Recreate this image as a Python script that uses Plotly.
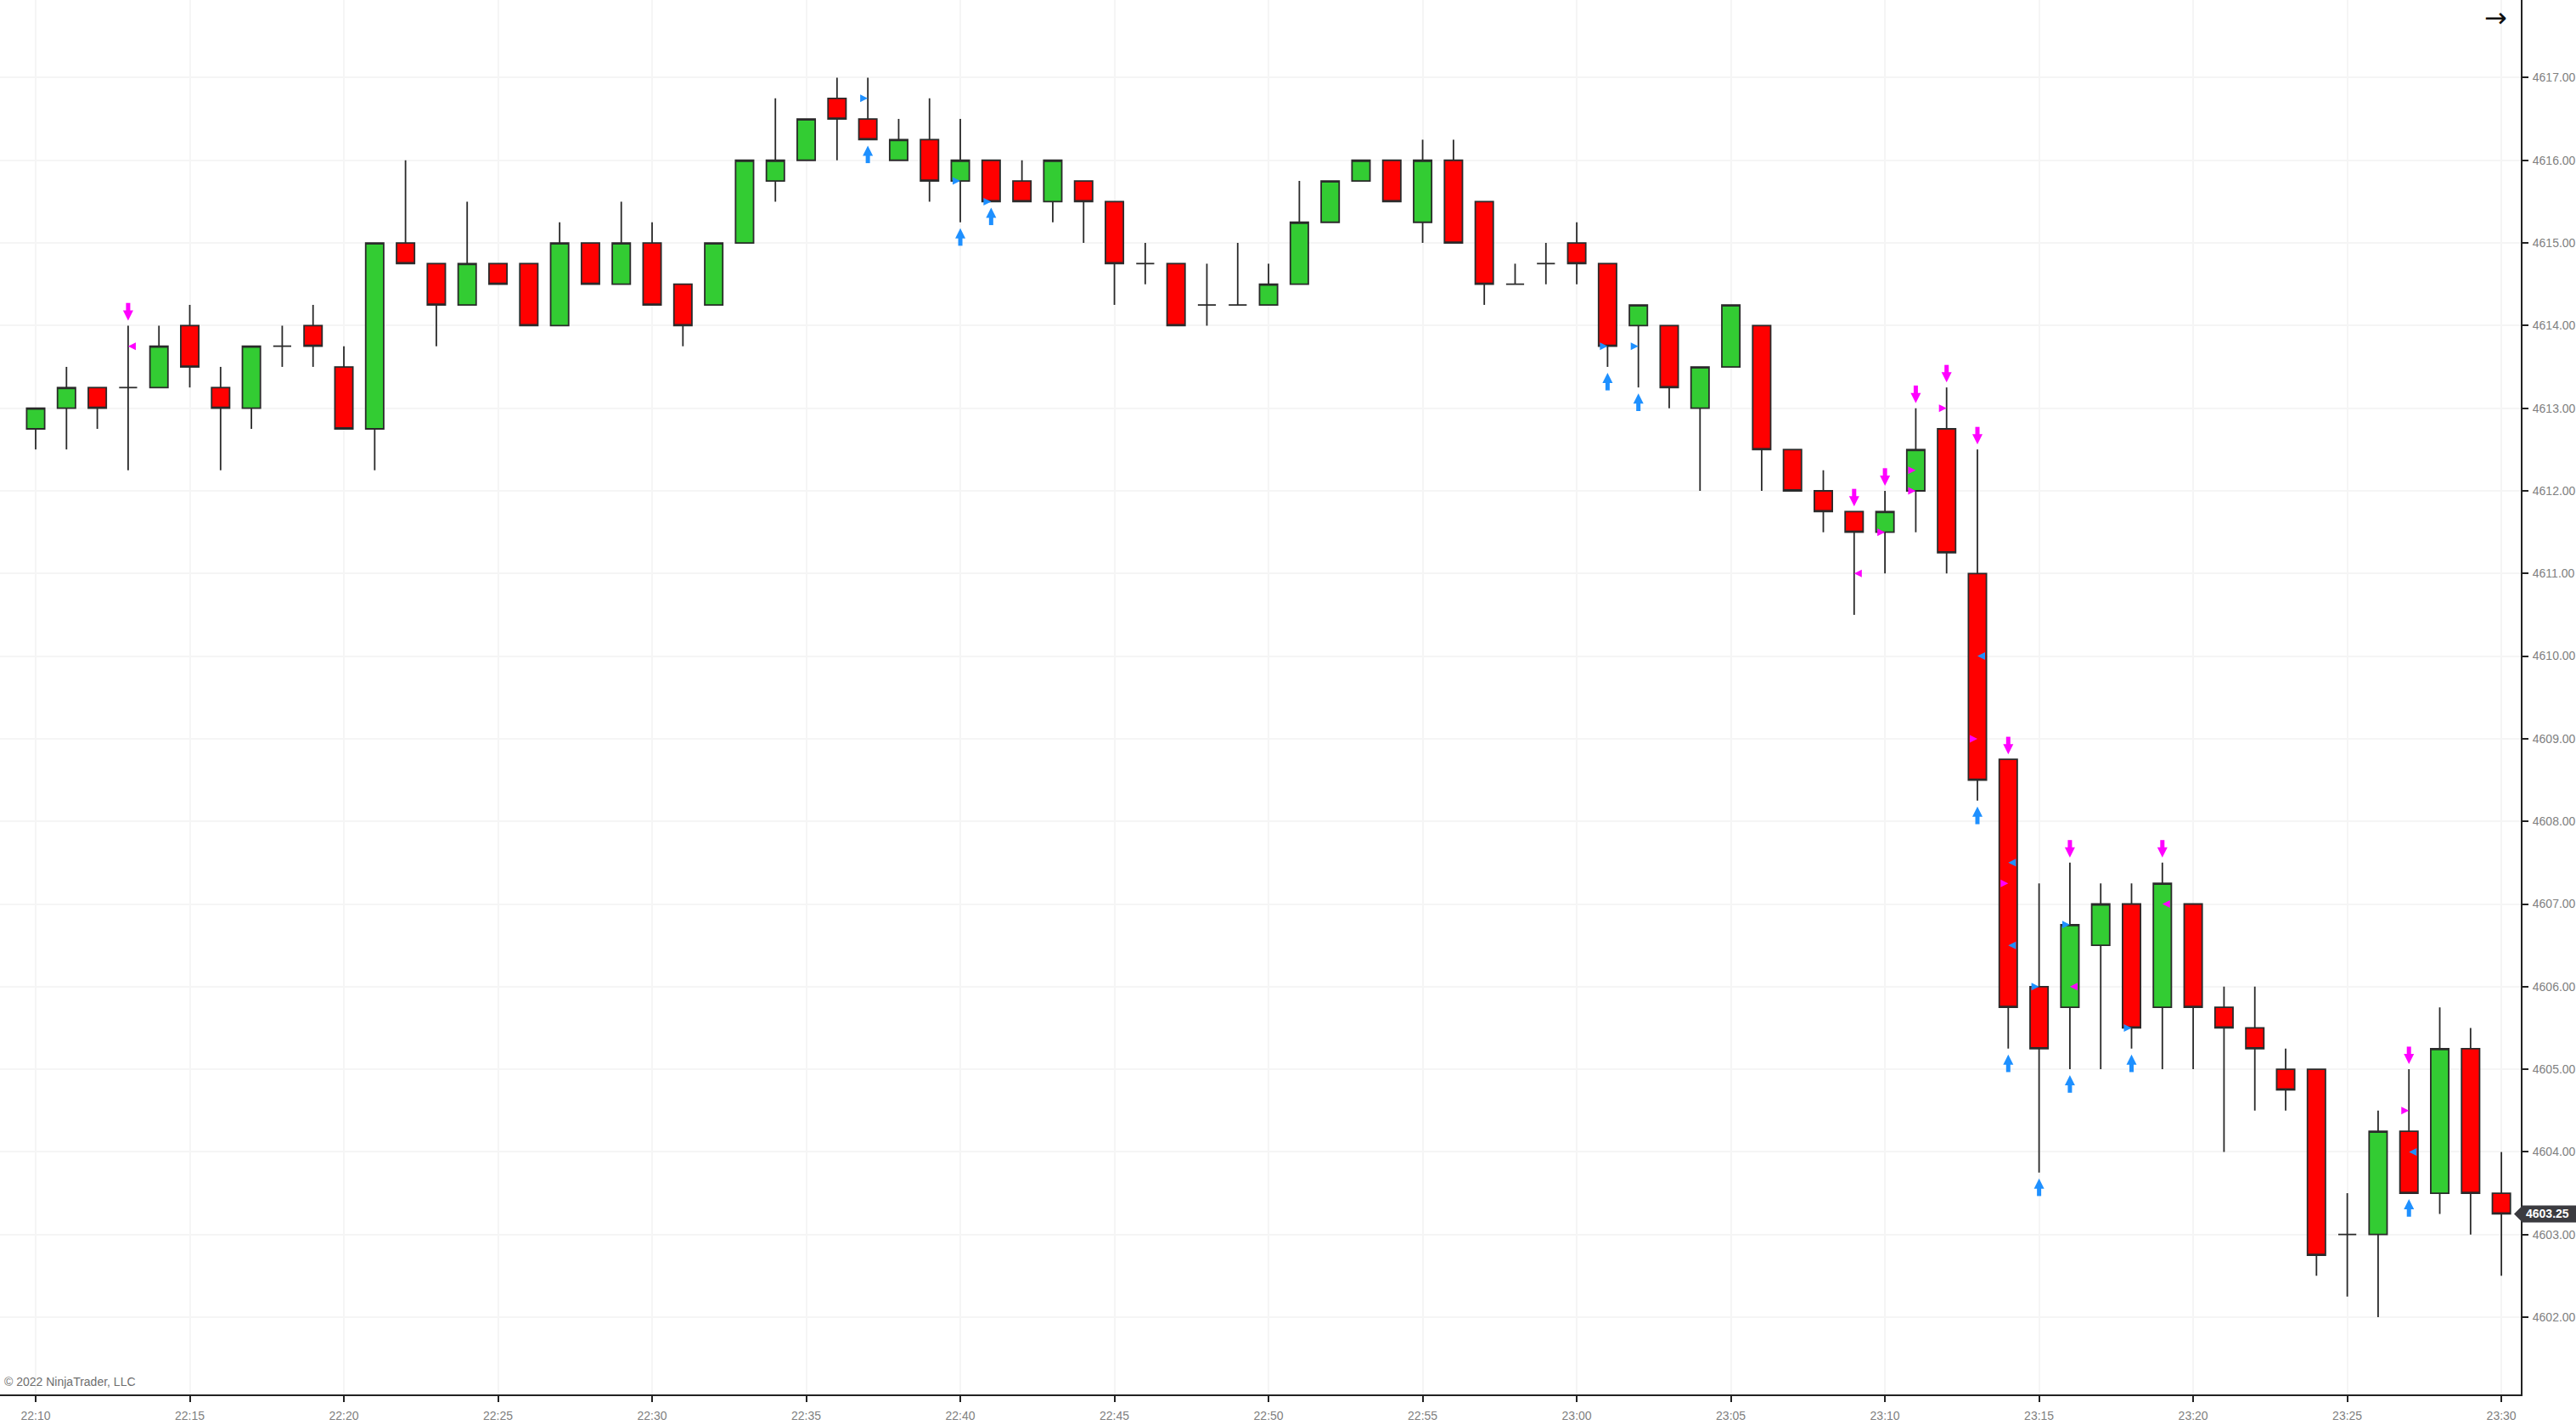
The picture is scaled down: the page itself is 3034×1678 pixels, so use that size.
import plotly.graph_objects as go
import pandas as pd

# ---------------- data ----------------
SESSION_DATE = "2022-01-03"
times = pd.date_range(f"{SESSION_DATE} 22:10", periods=81, freq="min")

opens = [4612.75, 4613.0, 4613.25, 4613.25, 4613.25, 4614.0, 4613.25, 4613.0, 4613.75, 4614.0,
         4613.5, 4612.75, 4615.0, 4614.75, 4614.25, 4614.75, 4614.75, 4614.0, 4615.0, 4614.5,
         4615.0, 4614.5, 4614.25, 4615.0, 4615.75, 4616.0, 4616.75, 4616.5, 4616.0, 4616.25,
         4615.75, 4616.0, 4615.75, 4615.5, 4615.75, 4615.5, 4614.75, 4614.75, 4614.25, 4614.25,
         4614.25, 4614.5, 4615.25, 4615.75, 4616.0, 4615.25, 4616.0, 4615.5, 4614.5, 4614.75,
         4615.0, 4614.75, 4614.0, 4614.0, 4613.0, 4613.5, 4614.0, 4612.5, 4612.0, 4611.75,
         4611.5, 4612.0, 4612.75, 4611.0, 4608.75, 4606.0, 4605.75, 4606.5, 4607.0, 4605.75,
         4607.0, 4605.75, 4605.5, 4605.0, 4605.0, 4603.0, 4603.0, 4604.25, 4603.5, 4605.25,
         4603.5]
highs = [4613.0, 4613.5, 4613.25, 4614.0, 4614.0, 4614.25, 4613.5, 4613.75, 4614.0, 4614.25,
         4613.75, 4615.0, 4616.0, 4614.75, 4615.5, 4614.75, 4614.75, 4615.25, 4615.0, 4615.5,
         4615.25, 4614.5, 4615.0, 4616.0, 4616.75, 4616.5, 4617.0, 4617.0, 4616.5, 4616.75,
         4616.5, 4616.0, 4616.0, 4616.0, 4615.75, 4615.5, 4615.0, 4614.75, 4614.75, 4615.0,
         4614.75, 4615.75, 4615.75, 4616.0, 4616.0, 4616.25, 4616.25, 4615.5, 4614.75, 4615.0,
         4615.25, 4614.75, 4614.25, 4614.0, 4613.5, 4614.25, 4614.0, 4612.5, 4612.25, 4611.75,
         4612.0, 4613.0, 4613.25, 4612.5, 4608.75, 4607.25, 4607.5, 4607.25, 4607.25, 4607.5,
         4607.0, 4606.0, 4606.0, 4605.25, 4605.0, 4603.5, 4604.5, 4605.0, 4605.75, 4605.5,
         4604.0]
lows = [4612.5, 4612.5, 4612.75, 4612.25, 4613.25, 4613.25, 4612.25, 4612.75, 4613.5, 4613.5,
        4612.75, 4612.25, 4614.75, 4613.75, 4614.25, 4614.5, 4614.0, 4614.0, 4614.5, 4614.5,
        4614.25, 4613.75, 4614.25, 4615.0, 4615.5, 4616.0, 4616.0, 4616.25, 4616.0, 4615.5,
        4615.25, 4615.5, 4615.5, 4615.25, 4615.0, 4614.25, 4614.5, 4614.0, 4614.0, 4614.25,
        4614.25, 4614.5, 4615.25, 4615.75, 4615.5, 4615.0, 4615.0, 4614.25, 4614.5, 4614.5,
        4614.5, 4613.5, 4613.25, 4613.0, 4612.0, 4613.5, 4612.0, 4612.0, 4611.5, 4610.5,
        4611.0, 4611.5, 4611.0, 4608.25, 4605.25, 4603.75, 4605.0, 4605.0, 4605.25, 4605.0,
        4605.0, 4604.0, 4604.5, 4604.5, 4602.5, 4602.25, 4602.0, 4603.5, 4603.25, 4603.0,
        4602.5]
closes = [4613.0, 4613.25, 4613.0, 4613.25, 4613.75, 4613.5, 4613.0, 4613.75, 4613.75, 4613.75,
          4612.75, 4615.0, 4614.75, 4614.25, 4614.75, 4614.5, 4614.0, 4615.0, 4614.5, 4615.0,
          4614.25, 4614.0, 4615.0, 4616.0, 4616.0, 4616.5, 4616.5, 4616.25, 4616.25, 4615.75,
          4616.0, 4615.5, 4615.5, 4616.0, 4615.5, 4614.75, 4614.75, 4614.0, 4614.25, 4614.25,
          4614.5, 4615.25, 4615.75, 4616.0, 4615.5, 4616.0, 4615.0, 4614.5, 4614.5, 4614.75,
          4614.75, 4613.75, 4614.25, 4613.25, 4613.5, 4614.25, 4612.5, 4612.0, 4611.75, 4611.5,
          4611.75, 4612.5, 4611.25, 4608.5, 4605.75, 4605.25, 4606.75, 4607.0, 4605.5, 4607.25,
          4605.75, 4605.5, 4605.25, 4604.75, 4602.75, 4603.0, 4604.25, 4603.5, 4605.25, 4603.5,
          4603.25]

# signal markers (bar times)
sell_arrow_times = ["22:13", "23:09", "23:10", "23:11", "23:12", "23:13", "23:14", "23:16", "23:19", "23:27"]
buy_arrow_times = ["22:37", "22:40", "22:41", "23:01", "23:02", "23:13", "23:14", "23:15", "23:16", "23:18", "23:27"]

magenta_left_times = ["22:13", "23:09", "23:16", "23:19"]
magenta_left_prices = [4613.75, 4611.0, 4606.0, 4607.0]
magenta_right_times = ["23:10", "23:11", "23:11", "23:12", "23:13", "23:14", "23:27"]
magenta_right_prices = [4611.5, 4612.25, 4612.0, 4613.0, 4609.0, 4607.25, 4604.5]
blue_left_times = ["23:13", "23:14", "23:14", "23:27"]
blue_left_prices = [4610.0, 4607.5, 4606.5, 4604.0]
blue_right_times = ["22:37", "22:40", "22:41", "23:01", "23:02", "23:15", "23:16", "23:18"]
blue_right_prices = [4616.75, 4615.75, 4615.5, 4613.75, 4613.75, 4606.0, 4606.75, 4605.5]

last_price = closes[-1]

# ---------------- layout geometry ----------------
W, H = 3034, 1678
M_R, M_B = 65, 36
PLOT_H = H - M_B
Y0, Y1 = 4601.065, 4617.94
PPU = PLOT_H / (Y1 - Y0)  # pixels per price unit

MAGENTA = "#ff00ff"
BLUE = "#1e90ff"

label_of = {t.strftime("%H:%M"): t for t in times}
idx_of = {t.strftime("%H:%M"): i for i, t in enumerate(times)}


def tx(labels):
    return [label_of[s] for s in labels]


fig = go.Figure()

fig.add_trace(go.Candlestick(
    x=times, open=opens, high=highs, low=lows, close=closes,
    increasing=dict(fillcolor="#33cc33", line=dict(color="#2a2a2a", width=1.8)),
    decreasing=dict(fillcolor="#ff0000", line=dict(color="#2a2a2a", width=1.8)),
    whiskerwidth=0, hoverinfo="skip", showlegend=False,
))

# big arrows (shaft + head)
sell_x = tx(sell_arrow_times)
sell_tip = [highs[idx_of[s]] + 6 / PPU for s in sell_arrow_times]
buy_x = tx(buy_arrow_times)
buy_tip = [lows[idx_of[s]] - 7 / PPU for s in buy_arrow_times]

fig.add_trace(go.Scatter(
    x=sell_x, y=[v + 14 / PPU for v in sell_tip], mode="markers",
    marker=dict(symbol="line-ns", size=9.5, line=dict(width=5, color=MAGENTA)),
    hoverinfo="skip", showlegend=False))
fig.add_trace(go.Scatter(
    x=sell_x, y=sell_tip, mode="markers",
    marker=dict(symbol="arrow-down", size=12, color=MAGENTA, line=dict(width=0)),
    hoverinfo="skip", showlegend=False))
fig.add_trace(go.Scatter(
    x=buy_x, y=[v - 14 / PPU for v in buy_tip], mode="markers",
    marker=dict(symbol="line-ns", size=9.5, line=dict(width=5, color=BLUE)),
    hoverinfo="skip", showlegend=False))
fig.add_trace(go.Scatter(
    x=buy_x, y=buy_tip, mode="markers",
    marker=dict(symbol="arrow-up", size=12, color=BLUE, line=dict(width=0)),
    hoverinfo="skip", showlegend=False))

# small triangles
for tl, pr, sym, col in [
    (magenta_left_times, magenta_left_prices, "arrow-left", MAGENTA),
    (magenta_right_times, magenta_right_prices, "arrow-right", MAGENTA),
    (blue_left_times, blue_left_prices, "arrow-left", BLUE),
    (blue_right_times, blue_right_prices, "arrow-right", BLUE),
]:
    fig.add_trace(go.Scatter(
        x=tx(tl), y=pr, mode="markers",
        marker=dict(symbol=sym, size=9, color=col, line=dict(width=0)),
        hoverinfo="skip", showlegend=False))

x_start = times[0] - pd.Timedelta(minutes=1.157)
x_end = times[0] + pd.Timedelta(minutes=80.63)

axis_font = dict(family="Liberation Sans, Arial, sans-serif", size=14, color="#808080")

fig.update_layout(
    width=W, height=H,
    margin=dict(l=0, r=M_R, t=0, b=M_B, pad=0),
    paper_bgcolor="white", plot_bgcolor="white",
    showlegend=False,
    boxgap=0.2, boxgroupgap=0.27,
    xaxis=dict(
        type="date", range=[x_start, x_end],
        rangeslider=dict(visible=False),
        dtick=300000, tick0=f"{SESSION_DATE} 22:10", tickformat="%H:%M",
        showgrid=True, gridcolor="#f5f5f5", gridwidth=2,
        showline=True, linecolor="#222222", linewidth=2,
        ticks="outside", ticklen=7, tickwidth=2, tickcolor="#222222",
        tickfont=axis_font, ticklabelstandoff=4,
        zeroline=False, fixedrange=True,
    ),
    yaxis=dict(
        side="right", range=[Y0, Y1], dtick=1, tickformat=".2f",
        showgrid=True, gridcolor="#f5f5f5", gridwidth=2,
        showline=True, linecolor="#222222", linewidth=2,
        ticks="outside", ticklen=7, tickwidth=2, tickcolor="#222222",
        tickfont=axis_font, ticklabelstandoff=2,
        zeroline=False, fixedrange=True,
    ),
    font=dict(family="Liberation Sans, Arial, sans-serif"),
)

# current price marker on the axis
py = (last_price - Y0) / (Y1 - Y0)
fig.add_shape(
    type="path", xref="paper", yref="paper",
    xsizemode="pixel", ysizemode="pixel", xanchor=1, yanchor=py,
    path="M -8,0 L 2,10 L 66,10 L 66,-10 L 2,-10 Z",
    fillcolor="#3b3b40", line=dict(width=0), layer="above",
)
fig.add_annotation(
    x=1, xref="paper", y=last_price, yref="y", xanchor="left", yanchor="middle",
    xshift=4, text=f"<b>{last_price:.2f}</b>", showarrow=False,
    font=dict(family="Liberation Sans, Arial, sans-serif", size=14, color="white"),
)

# copyright
fig.add_annotation(
    x=0, xref="paper", y=0, yref="paper", xanchor="left", yanchor="bottom",
    xshift=3, yshift=5, text="© 2022 NinjaTrader, LLC", showarrow=False,
    font=dict(family="Liberation Sans, Arial, sans-serif", size=14, color="#6e6e6e"),
)

# arrow glyph top-right
fig.add_annotation(
    x=1, xref="paper", y=1, yref="paper", xanchor="right", yanchor="middle",
    xshift=-14, yshift=-21, text="→", showarrow=False,
    font=dict(family="DejaVu Sans", size=32, color="#111111"),
)

fig.write_html("out.html", config=dict(displayModeBar=False),
               post_script="document.body.style.margin='0px';document.body.style.overflow='hidden';")
